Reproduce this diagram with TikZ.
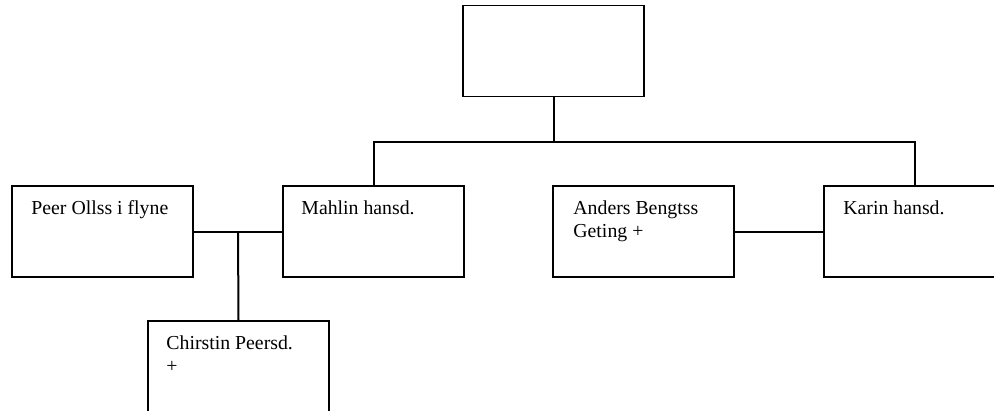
\documentclass[tikz,border=0pt]{standalone}
\usepackage{fontspec}
\setmainfont{Liberation Serif}
\usetikzlibrary{calc}
\begin{document}
\begin{tikzpicture}[x=1pt,y=-1pt,
  box/.style={draw, line width=1.6pt, minimum width=181pt, minimum height=91pt, inner sep=0pt},
  conn/.style={line width=2pt},
  lbl/.style={anchor=base west, inner sep=0pt, font=\fontsize{19.8}{23}\selectfont, align=left}]
\useasboundingbox (0,0) rectangle (994,410);
\clip (0,0) rectangle (994,410);
\node[box] (top) at (553.5,51) {};
\node[box] (peer) at (102.5,231.5) {};
\node[box] (mahlin) at (373.5,231.5) {};
\node[box] (anders) at (643.5,231.5) {};
\node[box] (karin) at (914.5,231.5) {};
\node[box] (chir) at (238.5,366.5) {};
\node[lbl] (tpeer) at ($(peer.north west)+(20,29)$) {Peer Ollss i flyne};
\node[lbl] (tmahlin) at ($(mahlin.north west)+(19,29)$) {Mahlin hansd.};
\node[lbl] (tanders) at ($(anders.north west)+(21,52)$) {Anders Bengtss\\Geting +};
\node[lbl] (tkarin) at ($(karin.north west)+(20,29)$) {Karin hansd.};
\node[lbl] (tchir) at ($(chir.north west)+(19,52)$) {Chirstin Peersd.\\+};
\coordinate (bar) at ($(top.south)+(0,45)$);
\draw[conn] (top.south) -- (bar);
\draw[conn] (mahlin.north) |- (bar) -| (karin.north);
\draw[conn] (peer.east) -- coordinate (mid) (mahlin.west);
\draw[conn] (mid) -- (chir.north);
\draw[conn] (anders.east) -- (karin.west);
\end{tikzpicture}
\end{document}
